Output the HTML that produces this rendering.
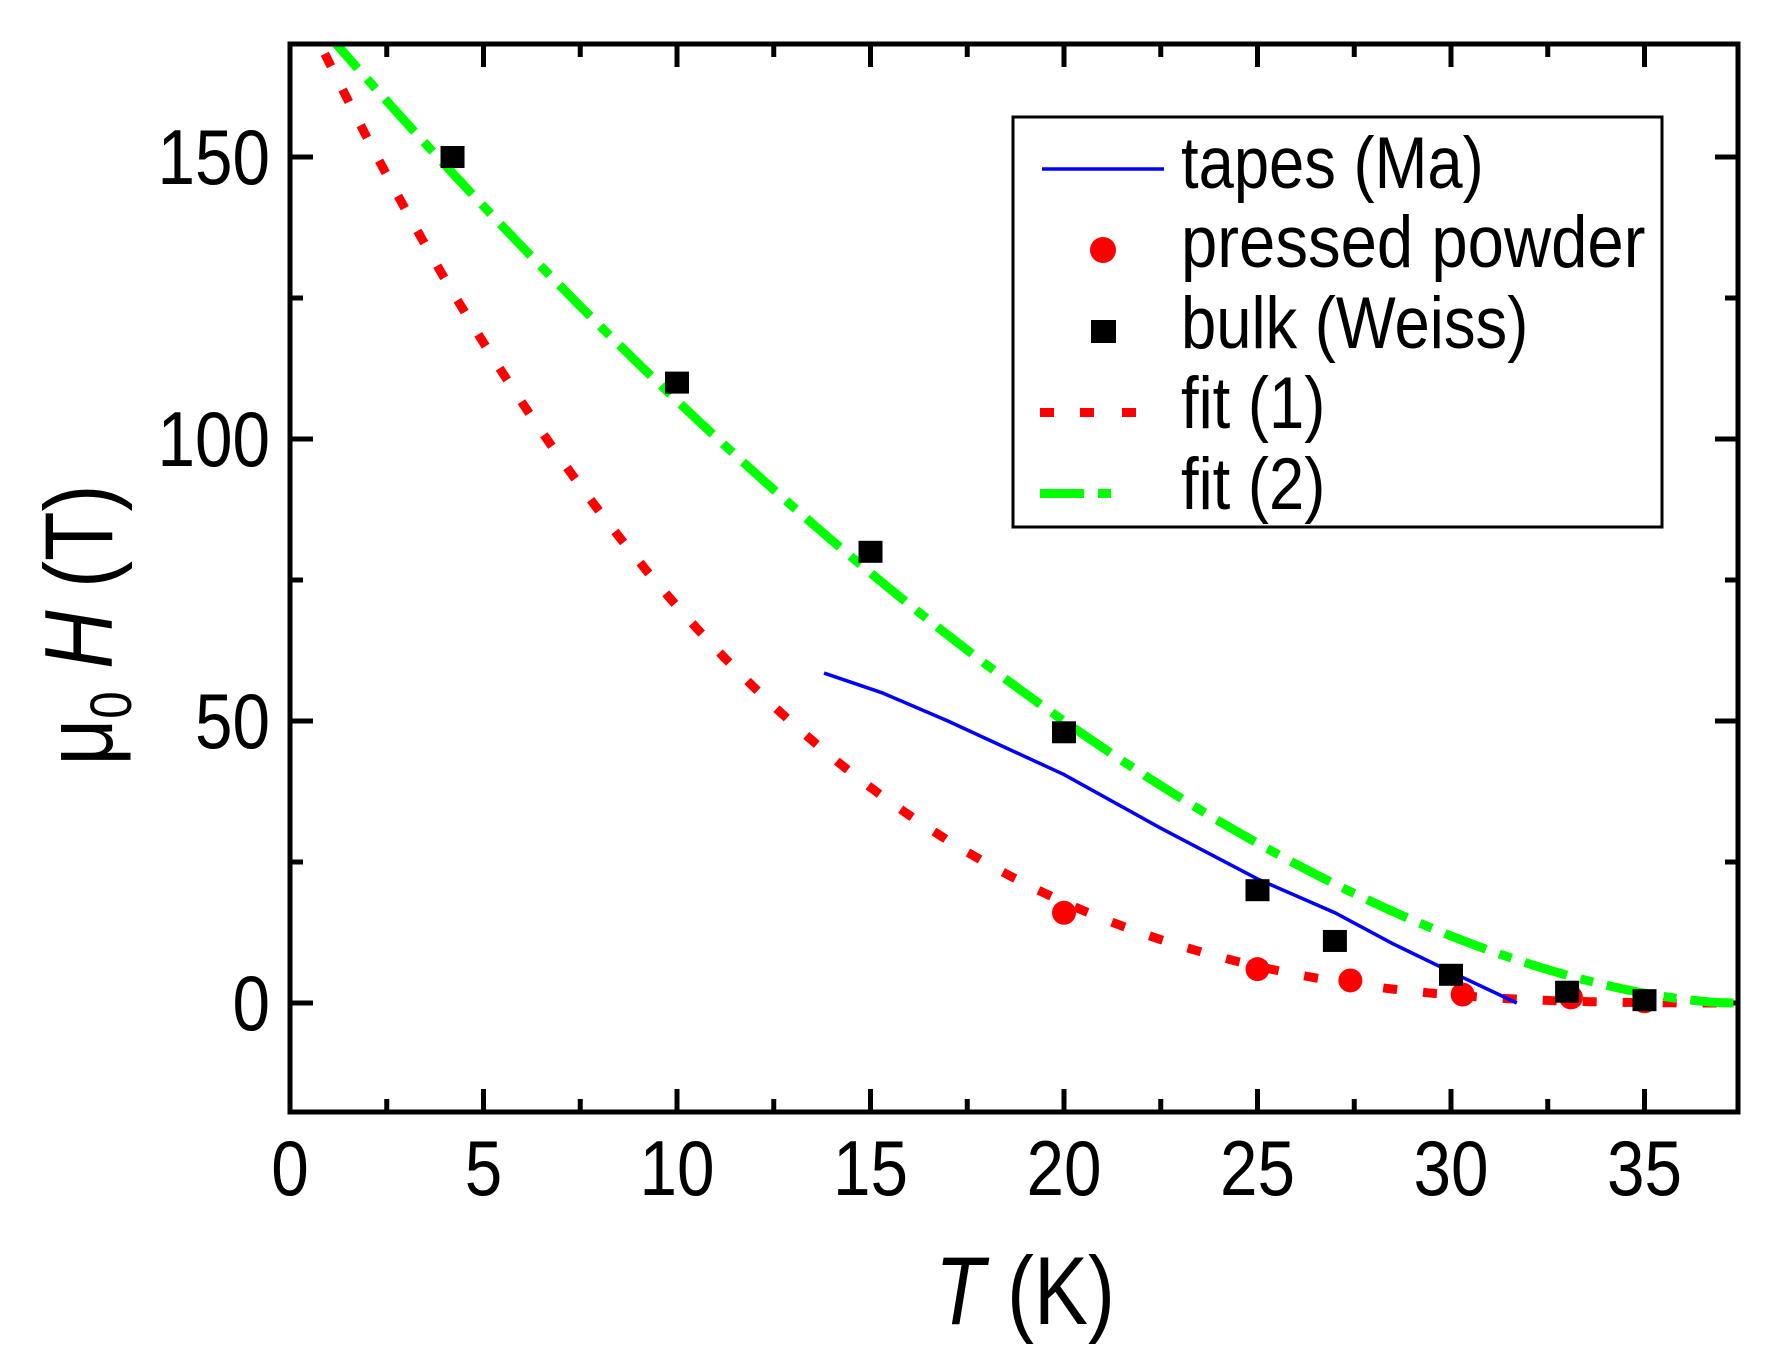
<!DOCTYPE html>
<html><head><meta charset="utf-8"><style>
html,body{margin:0;padding:0;background:#fff;}
svg text{font-family:"Liberation Sans",Arial,sans-serif;fill:#000;}
</style></head><body>
<svg id="s" width="1773" height="1353" viewBox="0 0 1773 1353" xmlns="http://www.w3.org/2000/svg">
<defs><clipPath id="c"><rect x="290" y="44" width="1448" height="1068"/></clipPath></defs>
<g id="ticks" stroke="#000" stroke-width="5"></g>
<g clip-path="url(#c)">
<path id="red" fill="none" stroke="#ff0000" stroke-width="9" stroke-dasharray="14 26"/>
<path id="green" fill="none" stroke="#00ff00" stroke-width="9" stroke-dasharray="44 14 13 14"/>
<path id="blue" fill="none" stroke="#0000ff" stroke-width="3.5"/>
<g id="pts"></g>
</g>
<rect x="290" y="44" width="1448" height="1068" fill="none" stroke="#000" stroke-width="5"/>
<g id="labels" font-size="71" text-anchor="middle"></g>
<rect x="1013" y="117" width="649" height="410" fill="#fff" stroke="#000" stroke-width="3"/>
<line x1="1042" y1="169" x2="1164" y2="169" stroke="#0000ff" stroke-width="3.5"/>
<circle cx="1103" cy="250" r="13" fill="#ff0000"/>
<rect x="1091" y="320" width="25" height="23" fill="#000"/>
<rect x="1040" y="408" width="14" height="9" fill="#ff0000"/>
<rect x="1080" y="408" width="14" height="9" fill="#ff0000"/>
<rect x="1122" y="408" width="14" height="9" fill="#ff0000"/>
<rect x="1040" y="489" width="44" height="9" fill="#00ff00"/>
<rect x="1098" y="489" width="13" height="9" fill="#00ff00"/>
<g font-size="64">
<text transform="translate(1181,188) scale(0.99,1.14)">tapes (Ma)</text>
<text transform="translate(1181,267) scale(1.02,1.14)">pressed powder</text>
<text transform="translate(1181,348) scale(0.99,1.14)">bulk (Weiss)</text>
<text transform="translate(1181,428) scale(0.99,1.14)">fit (1)</text>
<text transform="translate(1181,509) scale(0.99,1.14)">fit (2)</text>
</g>
<text transform="translate(1025,1324) scale(0.88,1.05)" font-size="92" text-anchor="middle"><tspan font-style="italic">T</tspan> (K)</text>
<text transform="translate(112,625) rotate(-90) scale(0.88,1.05)" font-size="92" text-anchor="middle">μ<tspan font-size="56" dy="18">0</tspan><tspan dy="-18" font-style="italic"> H</tspan> (T)</text>
</svg>
<script>
var X=function(t){return 290+38.7*t;},Y=function(v){return 1003-5.64*v;};
var NS="http://www.w3.org/2000/svg";
function el(n,a,p){var e=document.createElementNS(NS,n);for(var k in a)e.setAttribute(k,a[k]);if(p)p.appendChild(e);return e;}
var tk=document.getElementById('ticks'),lb=document.getElementById('labels');
for(var t=2.5;t<37.3;t+=2.5){var x=X(t),maj=(t%5==0),L=maj?23:13;
el('line',{x1:x,y1:1112,x2:x,y2:1112-L},tk);el('line',{x1:x,y1:44,x2:x,y2:44+L},tk);}
for(var t=0;t<=35;t+=5){var tx=el('text',{transform:'translate('+X(t)+',1195) scale(0.95,1.1)'},lb);tx.textContent=t;}
for(var v=0;v<=150;v+=25){var y=Y(v),maj=(v%50==0),L=maj?23:13;
el('line',{x1:290,y1:y,x2:290+L,y2:y},tk);el('line',{x1:1738,y1:y,x2:1738-L,y2:y},tk);
if(maj){var tx=el('text',{transform:'translate(270,'+(y+27)+') scale(0.95,1.1)','text-anchor':'end'},lb);tx.textContent=v;}}
function path(f,a,b){var d='';for(var t=a;t<=b;t+=0.1){d+=(d?'L':'M')+X(t).toFixed(1)+' '+Y(f(t)).toFixed(1);}return d;}
document.getElementById('red').setAttribute('d',path(function(t){var u=1-t/38;return u>0?181.3*Math.pow(u,3.1):0;},0.9,37.3));
document.getElementById('green').setAttribute('d',path(function(t){var u=(37.3-t)/36.1;return u>0?170*Math.pow(u,1.664):0;},1.0,37.4));
var bl=[[13.8,58.5],[15.3,55],[17,50],[20,40.5],[22.5,31],[25,22],[27,16],[28.5,10.5],[30,5.5],[31.7,0]];
document.getElementById('blue').setAttribute('d',bl.map(function(p,i){return (i?'L':'M')+X(p[0])+' '+Y(p[1]);}).join(''));
var g=document.getElementById('pts');
[[20,16],[25,6],[27.4,4],[30.3,1.5],[33.1,1],[35,0.3]].forEach(function(p){el('circle',{cx:X(p[0]),cy:Y(p[1]),r:12,fill:'#ff0000'},g);});
[[4.2,150],[10,110],[15,80],[20,48],[25,20],[27,11],[30,5],[33,2],[35,0.5]].forEach(function(p){el('rect',{x:X(p[0])-12,y:Y(p[1])-11,width:24,height:22,fill:'#000'},g);});
</script>
</body></html>
